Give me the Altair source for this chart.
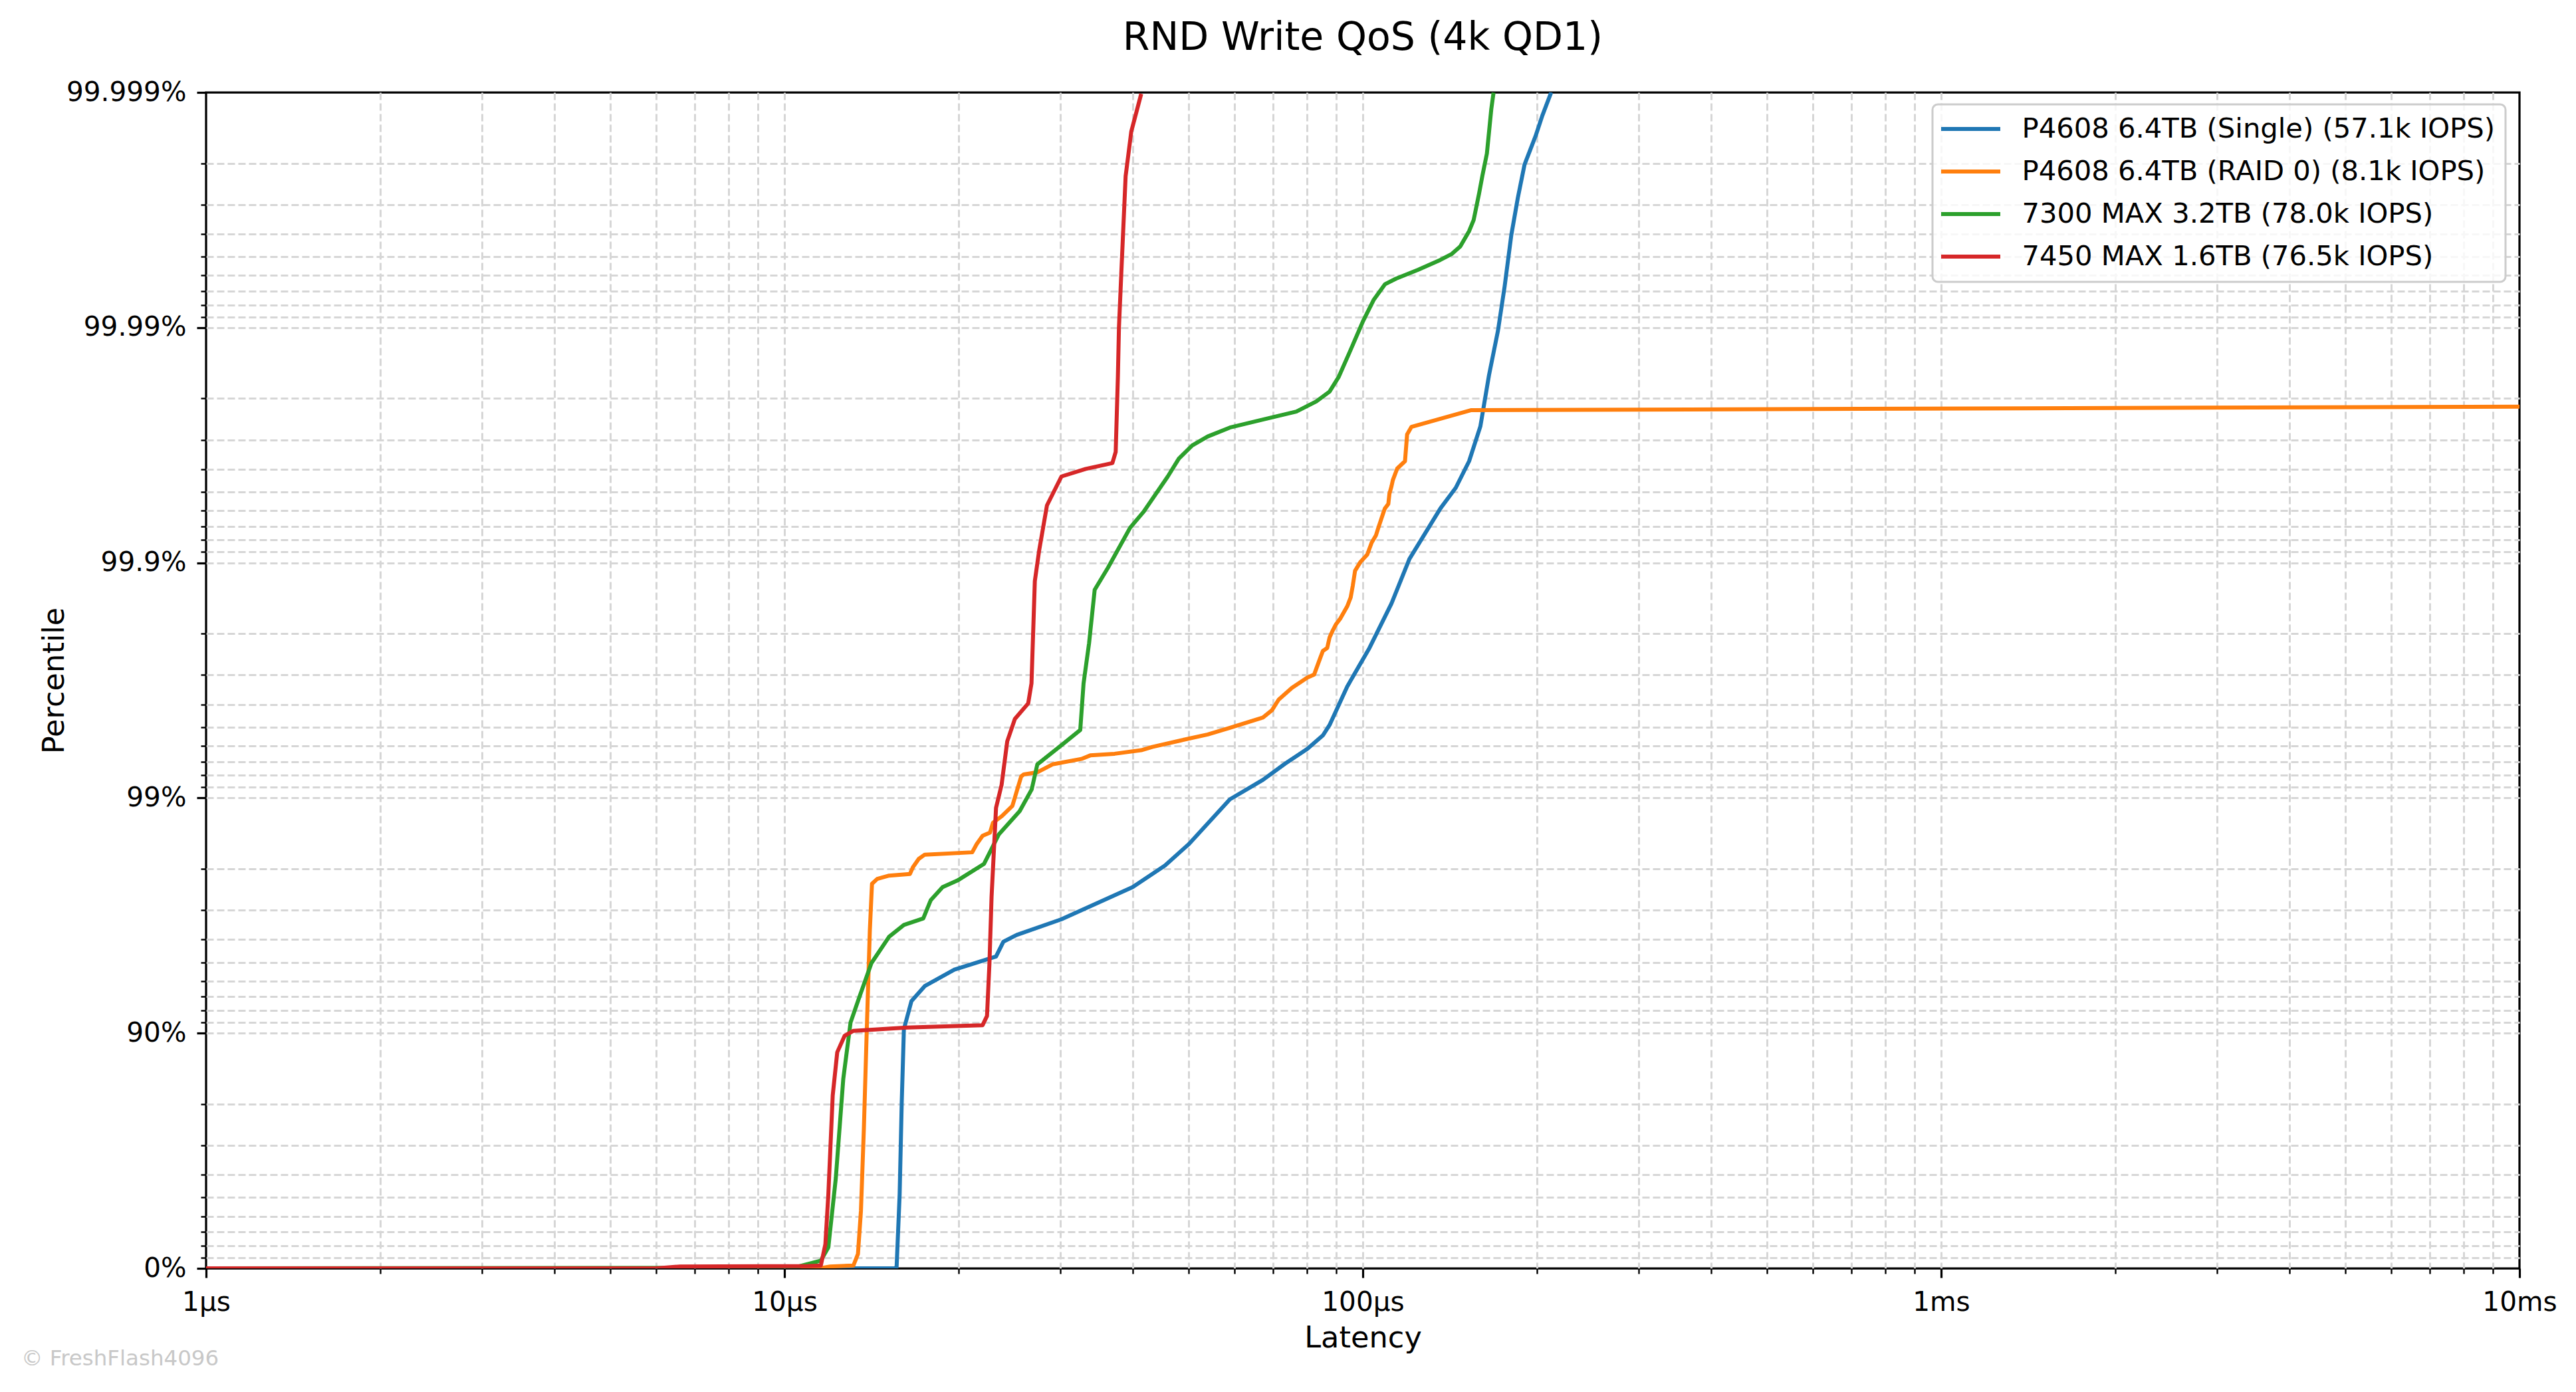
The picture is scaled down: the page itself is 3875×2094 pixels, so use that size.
import altair as alt
import pandas as pd
import numpy as np

series_names = [
    "P4608 6.4TB (Single) (57.1k IOPS)",
    "P4608 6.4TB (RAID 0) (8.1k IOPS)",
    "7300 MAX 3.2TB (78.0k IOPS)",
    "7450 MAX 1.6TB (76.5k IOPS)",
]
series_colors = ["#1f77b4", "#ff7f0e", "#2ca02c", "#d62728"]

# latency in microseconds, percentile expressed as "nines" = -log10(1 - p)
lat_blue = [1.0, 15.5, 15.63, 15.82, 15.95, 16.09, 16.58, 17.48, 19.67, 23.22, 23.91, 25.22, 30.10,
            40.0, 45.5, 50.04, 58.9, 67.2, 73.4, 80.2, 85.3, 87.6, 94.0, 102.7, 112.1, 120.4,
            136.2, 144.8, 152.7, 159.7, 165.3, 171.3, 175.9, 180.6, 185.4, 190.4, 199.0, 204.3, 211.7]
nines_blue = [0.0, 0.0, 0.005, 0.314, 0.70, 1.017, 1.136, 1.20, 1.27, 1.326, 1.389, 1.418, 1.484,
              1.621, 1.713, 1.804, 1.994, 2.077, 2.146, 2.209, 2.266, 2.310, 2.474, 2.638, 2.827, 3.016,
              3.231, 3.319, 3.432, 3.580, 3.798, 3.987, 4.175, 4.392, 4.552, 4.693, 4.815, 4.900, 5.0]

lat_orange = [1.0, 11.5, 12.0, 13.16, 13.40, 13.56, 13.72, 13.88, 14.05, 14.17, 14.47, 15.17, 16.48,
              16.68, 17.07, 17.48, 21.12, 21.50, 22.01, 22.67, 22.94, 23.77, 24.78, 25.22, 25.67, 25.93,
              27.35, 29.08, 32.62, 33.79, 37.23, 41.39, 43.25, 48.52, 53.93, 58.91, 67.2, 69.66, 71.53,
              75.42, 80.2, 82.4, 84.2, 85.3, 86.8, 87.6, 88.8, 89.9, 91.5, 94.0, 95.3, 96.1, 96.97,
              99.1, 101.8, 103.6, 105.4, 106.4, 108.3, 109.2, 110.7, 111.2, 112.1, 112.7, 114.7, 118.3,
              119.3, 121.4, 154.1, 10000.0]
nines_orange = [0.0, 0.0, 0.008, 0.012, 0.061, 0.244, 0.595, 1.017, 1.438, 1.635, 1.656, 1.670, 1.677,
                1.706, 1.741, 1.759, 1.769, 1.804, 1.839, 1.853, 1.895, 1.923, 1.966, 2.029, 2.092, 2.100,
                2.109, 2.143, 2.166, 2.181, 2.188, 2.203, 2.217, 2.245, 2.270, 2.298, 2.342, 2.373, 2.418,
                2.468, 2.512, 2.525, 2.588, 2.625, 2.638, 2.682, 2.714, 2.739, 2.764, 2.815, 2.853, 2.903,
                2.966, 3.004, 3.035, 3.086, 3.117, 3.149, 3.206, 3.231, 3.250, 3.294, 3.325, 3.351, 3.401,
                3.432, 3.546, 3.578, 3.649, 3.664]

lat_green = [1.0, 10.39, 11.56, 11.91, 12.27, 12.64, 13.01, 13.49, 14.14, 15.17, 16.09, 17.38, 17.90,
             18.77, 19.91, 22.14, 23.49, 25.51, 26.76, 27.37, 30.39, 32.47, 32.90, 33.63, 34.39, 36.26,
             39.60, 41.76, 46.01, 48.08, 50.70, 53.93, 58.91, 67.2, 76.76, 83.1, 87.6, 90.8, 94.8, 100.0,
             104.5, 109.2, 114.1, 124.7, 136.2, 142.3, 147.4, 152.7, 155.5, 158.9, 161.0, 163.9, 166.8, 168.3]
nines_green = [0.0, 0.003, 0.033, 0.089, 0.384, 0.806, 1.045, 1.157, 1.298, 1.410, 1.460, 1.488, 1.565,
               1.621, 1.649, 1.720, 1.846, 1.944, 2.036, 2.143, 2.232, 2.289, 2.487, 2.658, 2.885, 2.979,
               3.149, 3.216, 3.367, 3.443, 3.499, 3.537, 3.575, 3.609, 3.643, 3.686, 3.728, 3.789, 3.893, 4.025,
               4.119, 4.184, 4.208, 4.246, 4.288, 4.312, 4.345, 4.410, 4.458, 4.571, 4.646, 4.740, 4.929, 4.999]

lat_red = [1.0, 6.0, 6.6, 11.0, 11.56, 11.77, 11.91, 12.12, 12.34, 12.71, 13.16, 16.29, 22.01, 22.40,
           22.62, 22.81, 23.22, 23.74, 24.28, 25.03, 26.39, 26.74, 27.10, 27.58, 28.44, 30.13, 33.19,
           36.90, 37.39, 37.72, 37.88, 38.23, 38.90, 39.78, 41.39]
nines_red = [0.0, 0.0, 0.008, 0.010, 0.012, 0.103, 0.314, 0.736, 0.919, 0.989, 1.010, 1.024, 1.034, 1.073,
             1.298, 1.579, 1.958, 2.056, 2.241, 2.336, 2.402, 2.487, 2.922, 3.055, 3.244, 3.367, 3.399,
             3.424, 3.471, 3.793, 4.001, 4.228, 4.644, 4.833, 4.994]

x_major = [1, 10, 100, 1000, 10000]
x_major_labels = ["1µs", "10µs", "100µs", "1ms", "10ms"]
y_major = [0, 1, 2, 3, 4, 5]
y_major_labels = ["0%", "90%", "99%", "99.9%", "99.99%", "99.999%"]
watermark_text = ["© FreshFlash4096"]

rows = []
for name, lat, nin in zip(series_names,
                          [lat_blue, lat_orange, lat_green, lat_red],
                          [nines_blue, nines_orange, nines_green, nines_red]):
    for i, (a, b) in enumerate(zip(lat, nin)):
        rows.append({"series": name, "latency": a, "nines": b, "idx": i})
df = pd.DataFrame(rows)

x_ticks = sorted(set([d * m for d in [1, 10, 100, 1000] for m in range(1, 10)] + [10000]))
y_ticks = y_major + [round(k + 1 - float(np.log10(m)), 6) for k in range(5) for m in range(2, 10)]


def label_expr(vals, labels):
    expr = "''"
    for v, l in reversed(list(zip(vals, labels))):
        expr = f"datum.value == {v} ? '{l}' : ({expr})"
    return expr


x_major_test = "indexof([" + ",".join(str(v) for v in x_major) + "], datum.value) >= 0"
y_major_test = "abs(datum.value - round(datum.value)) < 0.000001"

FONT = "DejaVu Sans"
GRID = "#d6d6d6"

x_axis = alt.Axis(
    values=x_ticks,
    labelExpr=label_expr(x_major, x_major_labels),
    tickSize={"condition": {"test": x_major_test, "value": 14}, "value": 8},
    tickWidth={"condition": {"test": x_major_test, "value": 3.2}, "value": 2.4},
    tickColor="black",
    labelFontSize=40.6,
    labelColor="black",
    labelFont=FONT,
    labelPadding=17,
    labelFlush=False,
    labelOverlap=False,
    labelLimit=0,
    grid=True,
    gridDash=[11, 5],
    gridColor=GRID,
    gridWidth=3,
    gridOpacity={"condition": {"test": "datum.value == 1 || datum.value == 10000", "value": 0}, "value": 1},
    domain=False,
    title="Latency",
    titleFontSize=44.7,
    titleFontWeight="normal",
    titleColor="black",
    titleFont=FONT,
    titlePadding=12,
)

y_axis = alt.Axis(
    values=y_ticks,
    labelExpr=label_expr(y_major, y_major_labels),
    tickSize={"condition": {"test": y_major_test, "value": 14}, "value": 8},
    tickWidth={"condition": {"test": y_major_test, "value": 3.2}, "value": 2.4},
    tickColor="black",
    labelFontSize=40.6,
    labelColor="black",
    labelFont=FONT,
    labelPadding=16,
    labelOverlap=False,
    labelFlush=False,
    labelLimit=0,
    grid=True,
    gridDash=[11, 5],
    gridColor=GRID,
    gridWidth=3,
    gridOpacity={"condition": {"test": "datum.value == 0 || datum.value == 5", "value": 0}, "value": 1},
    domain=False,
    title="Percentile",
    titleFontSize=44.7,
    titleFontWeight="normal",
    titleColor="black",
    titleFont=FONT,
    titlePadding=6,
)

legend = alt.Legend(
    orient="none",
    legendX=2597,
    legendY=18,
    title=None,
    symbolType="M-2.5,0H2.5",
    symbolSize=1267,
    symbolStrokeWidth=6,
    symbolOffset=20.5,
    labelOffset=56,
    labelFontSize=41.7,
    labelFont=FONT,
    labelColor="black",
    labelLimit=0,
    padding=16,
    rowPadding=21,
    strokeColor="#cccccc",
    fillColor="rgba(255,255,255,0.8)",
    cornerRadius=8,
)

lines = alt.Chart(df).mark_line(strokeWidth=6, clip=True, strokeJoin="round").encode(
    x=alt.X("latency:Q", scale=alt.Scale(type="log", domain=[1, 10000], nice=False), axis=x_axis),
    y=alt.Y("nines:Q", scale=alt.Scale(domain=[0, 5], nice=False, zero=True), axis=y_axis),
    color=alt.Color("series:N", scale=alt.Scale(domain=series_names, range=series_colors), legend=legend),
    order="idx:Q",
)

wm = alt.Chart(pd.DataFrame({"t": watermark_text})).mark_text(
    align="left", baseline="alphabetic", fontSize=32.5, color="#c8c8c8", font=FONT
).encode(x=alt.value(-278), y=alt.value(1915), text="t:N")

chart = alt.layer(lines, wm).properties(
    width=3480,
    height=1769,
    title=alt.TitleParams(
        text="RND Write QoS (4k QD1)",
        fontSize=58.5,
        fontWeight="normal",
        font=FONT,
        color="black",
        anchor="middle",
        baseline="alphabetic",
        offset=-14,
    ),
    autosize=alt.AutoSizeParams(type="none"),
    padding={"left": 302, "top": 131, "right": 70, "bottom": 170},
).configure(
    font=FONT,
    view=alt.ViewConfig(stroke="black", strokeWidth=3.25),
    legend=alt.LegendConfig(strokeWidth=3),
)

chart.save("out.html", embed_options={"renderer": "svg", "actions": False})
